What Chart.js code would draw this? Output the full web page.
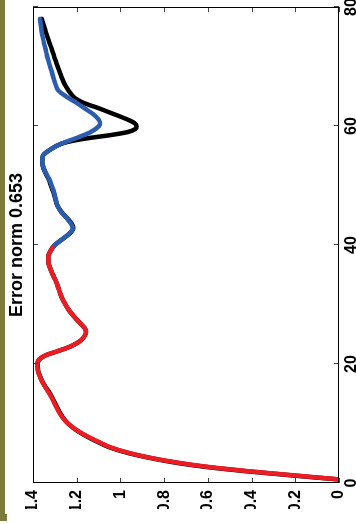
<!DOCTYPE html>
<html>
<head>
<meta charset="utf-8">
<script src="https://cdn.jsdelivr.net/npm/chart.js@4/dist/chart.umd.min.js"></script>
<style>
  html, body { margin: 0; padding: 0; background: #fff; }
  body { width: 356px; height: 524px; position: relative; overflow: hidden; }
  #strip { position: absolute; left: 0; top: 0; width: 5px; height: 521px; background: #7d7b3c; }
  #stripFoot { position: absolute; left: 0; top: 514px; width: 7px; height: 7px; background: #7d7b3c; }
  /* the figure is laid out landscape and turned a quarter turn counter-clockwise */
  #fig { position: absolute; left: 0; top: 524px; width: 524px; height: 356px;
         transform-origin: 0 0; transform: rotate(-90deg); }
</style>
</head>
<body>
<div id="strip"></div>
<div id="stripFoot"></div>
<div id="fig"><canvas id="c" width="524" height="356"></canvas></div>
<script>
// Response over sample index: reference curve (black) and the two fitted segments
const redT = [0.6, 1, 1.5, 2, 2.5, 3, 3.5, 4, 5, 6, 7, 8, 9, 10, 11, 12, 13, 14, 15, 16, 17, 18, 19, 20,
              21, 21.5, 22, 22.5, 23, 24, 25, 25.5, 26, 27, 28, 29, 30, 31, 32, 33, 34, 35, 36, 37, 38, 39, 39.5];
const redV = [0.00, 0.12, 0.27, 0.42, 0.55, 0.66, 0.75, 0.83, 0.955, 1.045, 1.105, 1.16, 1.205, 1.24, 1.265,
              1.283, 1.297, 1.31, 1.325, 1.342, 1.358, 1.37, 1.378, 1.38, 1.365, 1.34, 1.30, 1.26, 1.225,
              1.18, 1.16, 1.158, 1.163, 1.188, 1.213, 1.235, 1.252, 1.266, 1.277, 1.286, 1.296, 1.309,
              1.321, 1.329, 1.33, 1.32, 1.312];

const blueT = [39.3, 40, 41, 42, 42.8, 43.5, 44.5, 45.5, 46.5, 48, 49, 50, 51, 52, 53, 54, 55, 56, 57,
               58, 59, 60, 60.5, 61, 62, 63, 64, 65, 66, 67, 68, 69, 70, 71, 72, 73, 74, 75, 76, 77, 78];
const blueV = [1.316, 1.30, 1.265, 1.232, 1.218, 1.225, 1.246, 1.27, 1.287, 1.298, 1.305, 1.315, 1.325,
               1.34, 1.352, 1.358, 1.355, 1.322, 1.272, 1.20, 1.135, 1.098, 1.093, 1.098, 1.125, 1.165,
               1.205, 1.25, 1.285, 1.297, 1.306, 1.313, 1.322, 1.33, 1.337, 1.343, 1.35, 1.356, 1.361,
               1.365, 1.368];

const blackT = [0.6, 1, 1.5, 2, 2.5, 3, 3.5, 4, 5, 6, 7, 8, 9, 10, 11, 12, 13, 14, 15, 16, 17, 18, 19, 20,
                21, 21.5, 22, 22.5, 23, 24, 25, 25.5, 26, 27, 28, 29, 30, 31, 32, 33, 34, 35, 36, 37, 38, 39,
                40, 41, 42, 42.8, 43.5, 44.5, 45.5, 46.5, 48, 49, 50, 51, 52, 53, 54, 55, 56, 57, 57.5, 58,
                58.5, 59, 59.5, 60, 60.5, 61, 61.5, 62, 62.5, 63, 63.5, 64, 64.5, 65, 66, 67, 68, 69, 70, 71,
                72, 73, 74, 75, 76, 77, 78];
const blackV = [0.00, 0.13, 0.28, 0.43, 0.56, 0.67, 0.76, 0.835, 0.96, 1.05, 1.11, 1.163, 1.207, 1.24,
                1.263, 1.28, 1.294, 1.307, 1.322, 1.34, 1.357, 1.369, 1.377, 1.379, 1.364, 1.34, 1.30, 1.26,
                1.225, 1.18, 1.16, 1.158, 1.163, 1.188, 1.213, 1.235, 1.252, 1.266, 1.277, 1.286, 1.296,
                1.309, 1.321, 1.329, 1.33, 1.32, 1.30, 1.265, 1.23, 1.216, 1.222, 1.243, 1.268, 1.287, 1.30,
                1.308, 1.318, 1.328, 1.342, 1.353, 1.358, 1.355, 1.322, 1.272, 1.22, 1.14, 1.04, 0.965,
                0.932, 0.926, 0.936, 0.962, 0.995, 1.03, 1.065, 1.10, 1.14, 1.175, 1.20, 1.217, 1.238,
                1.255, 1.267, 1.277, 1.287, 1.297, 1.306, 1.315, 1.325, 1.334, 1.343, 1.352, 1.36];

const xTicks = [0, 20, 40, 60, 80];
const xTickLabels = ['0', '20', '40', '60', '80'];
const yTicks = [0, 0.2, 0.4, 0.6, 0.8, 1, 1.2, 1.4];
const yTickLabels = ['0', '0.2', '0.4', '0.6', '0.8', '1', '1.2', '1.4'];
const titleText = 'Error norm 0.653';

const pts = (ts, vs) => ts.map((t, i) => ({ x: t, y: vs[i] }));

Chart.defaults.font.family = '"Liberation Sans", Arial, Helvetica, sans-serif';
Chart.defaults.font.weight = 'bold';
Chart.defaults.font.size = 16;
Chart.defaults.color = '#000';

// box around the axes with short inward ticks on every side
const axesBox = {
  id: 'axesBox',
  afterDatasetsDraw(chart) {
    const { ctx, chartArea: a, scales } = chart;
    const xs = scales.x, ys = scales.y, len = 5;
    ctx.save();
    ctx.lineWidth = 1;
    ctx.strokeStyle = '#444';
    ctx.beginPath();
    xs.ticks.forEach(t => {
      const p = Math.round(xs.getPixelForValue(t.value)) + 0.5;
      ctx.moveTo(p, a.bottom); ctx.lineTo(p, a.bottom - len);
      ctx.moveTo(p, a.top); ctx.lineTo(p, a.top + len);
    });
    ys.ticks.forEach(t => {
      const p = Math.round(ys.getPixelForValue(t.value)) + 0.5;
      ctx.moveTo(a.left, p); ctx.lineTo(a.left + len, p);
      ctx.moveTo(a.right, p); ctx.lineTo(a.right - len, p);
    });
    ctx.stroke();
    ctx.strokeStyle = '#000';
    ctx.strokeRect(Math.round(a.left) + 0.5, Math.round(a.top) + 0.5,
                   Math.round(a.right - a.left) - 1, Math.round(a.bottom - a.top) - 1);
    ctx.restore();
  }
};

const lineStyle = {
  pointRadius: 0,
  fill: false,
  cubicInterpolationMode: 'monotone',
  borderCapStyle: 'round',
  borderJoinStyle: 'round'
};

new Chart(document.getElementById('c'), {
  type: 'line',
  data: {
    datasets: [
      Object.assign({ label: 'segment 1', data: pts(redT, redV), borderColor: '#ec1c24', borderWidth: 4.5 }, lineStyle),
      Object.assign({ label: 'segment 2', data: pts(blueT, blueV), borderColor: '#2b5cad', borderWidth: 4.5 }, lineStyle),
      Object.assign({ label: 'reference', data: pts(blackT, blackV), borderColor: '#000000', borderWidth: 4.5 }, lineStyle)
    ]
  },
  plugins: [axesBox],
  options: {
    responsive: false,
    animation: false,
    devicePixelRatio: 1,
    layout: { padding: { left: 15, right: 7, top: 0, bottom: 0 } },
    plugins: {
      legend: { display: false },
      tooltip: { enabled: false },
      title: {
        display: true,
        fullSize: false,
        text: titleText,
        font: { size: 18, weight: 'bold', lineHeight: '21px' },
        padding: { top: 6.5, bottom: 5.5 }
      }
    },
    scales: {
      x: {
        type: 'linear',
        min: 0, max: 80,
        grid: { display: false, drawTicks: false },
        border: { display: false },
        afterBuildTicks: s => { s.ticks = xTicks.map(v => ({ value: v })); },
        afterFit: s => { s.height = 17; s.paddingLeft = 0; s.paddingRight = 0; },
        ticks: { padding: 3, maxRotation: 0, autoSkip: false,
                 callback: (v, i) => xTickLabels[i] }
      },
      y: {
        type: 'linear',
        min: 0, max: 1.4,
        grid: { display: false, drawTicks: false },
        border: { display: false },
        afterBuildTicks: s => { s.ticks = yTicks.map(v => ({ value: v })); },
        afterFit: s => { s.width = 26; s.paddingTop = 0; s.paddingBottom = 0; },
        ticks: { padding: 7, autoSkip: false,
                 callback: (v, i) => yTickLabels[i] }
      }
    }
  }
});
</script>
</body>
</html>
